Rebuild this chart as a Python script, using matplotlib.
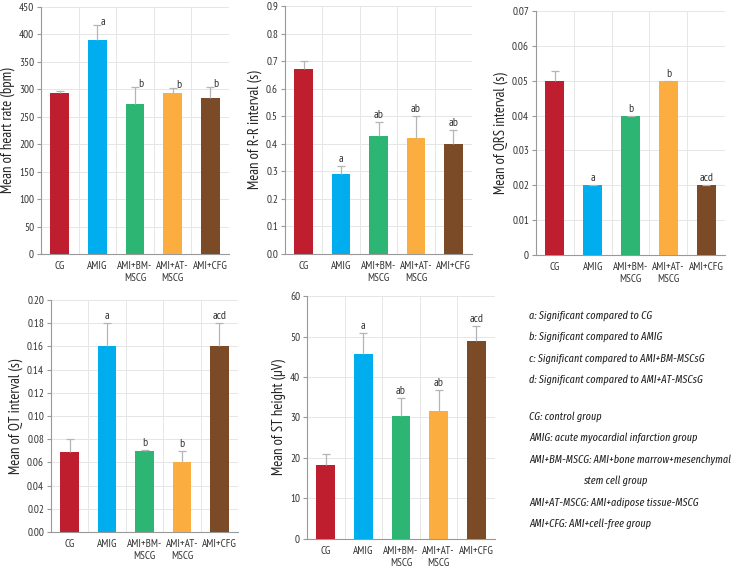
import matplotlib
matplotlib.use("Agg")
import matplotlib.pyplot as plt
import numpy as np

plt.rcParams["font.family"] = ["PT Sans Narrow", "DejaVu Sans"]
NOTE_FONT = ["Fira Sans Extra Condensed", "DejaVu Sans"]

groups = ["CG", "AMIG", "AMI+BM-\nMSCG", "AMI+AT-\nMSCG", "AMI+CFG"]
colors = ["#BE1E2D", "#00AEEF", "#2DB573", "#FBAE3F", "#7B4A26"]

heart_rate = [293, 390, 273, 293, 285]
heart_rate_err = [4, 27, 32, 9, 20]
heart_rate_sig = ["", "a", "b", "b", "b"]

rr_interval = [0.67, 0.29, 0.43, 0.42, 0.40]
rr_interval_err = [0.03, 0.03, 0.05, 0.08, 0.05]
rr_interval_sig = ["", "a", "ab", "ab", "ab"]

qrs_interval = [0.050, 0.020, 0.040, 0.050, 0.020]
qrs_interval_err = [0.0028, 0.0, 0.0, 0.0, 0.0]
qrs_interval_sig = ["", "a", "b", "b", "acd"]

qt_interval = [0.069, 0.160, 0.070, 0.060, 0.160]
qt_interval_err = [0.011, 0.020, 0.001, 0.010, 0.020]
qt_interval_sig = ["", "a", "b", "b", "acd"]

st_height = [18.3, 45.8, 30.3, 31.6, 48.8]
st_height_err = [2.7, 5.0, 4.6, 5.3, 3.7]
st_height_sig = ["", "a", "ab", "ab", "acd"]

notes = [
    "a: Significant compared to CG",
    "b: Significant compared to AMIG",
    "c: Significant compared to AMI+BM-MSCsG",
    "d: Significant compared to AMI+AT-MSCsG",
]
abbrevs = [
    "CG: control group",
    "AMIG: acute myocardial infarction group",
    "AMI+BM-MSCG: AMI+bone marrow+mesenchymal",
    "AMI+AT-MSCG: AMI+adipose tissue-MSCG",
    "AMI+CFG: AMI+cell-free group",
]


def bar_panel(ax, values, errs, sig, ylabel, ylim, yticks, labels, side=False):
    x = np.arange(len(groups))
    ax.bar(x, values, width=0.5, color=colors, zorder=3)
    eb = ax.errorbar(x, values, yerr=[np.zeros(len(errs)), errs], fmt="none",
                     ecolor="#b5b5b5", elinewidth=0.9, capsize=3, capthick=0.9,
                     zorder=4)
    eb[1][0].set_visible(False)
    span = ylim[1] - ylim[0]
    for i, s in enumerate(sig):
        if not s:
            continue
        top = values[i] + errs[i]
        if side:
            ax.text(i + 0.09, top + span * 0.012, s, ha="left", va="center",
                    fontsize=8.5, color="#333333")
        else:
            ax.text(i, top + span * 0.008, s, ha="center", va="bottom",
                    fontsize=8.5, color="#333333")
    ax.set_xlim(-0.5, len(groups) - 0.5)
    ax.set_ylim(*ylim)
    ax.set_yticks(yticks)
    ax.set_yticklabels(labels)
    ax.set_xticks(x)
    ax.set_xticklabels(groups, linespacing=1.3)
    ax.set_xticks(np.arange(len(groups) + 1) - 0.5, minor=True)
    ax.grid(axis="x", which="minor", color="#e6e6e6", lw=0.7, zorder=0)
    ax.grid(axis="y", which="major", color="#e6e6e6", lw=0.7, zorder=0)
    ax.tick_params(axis="x", which="major", length=0, labelsize=8, pad=5,
                   colors="#333333")
    ax.tick_params(axis="x", which="minor", length=0)
    ax.tick_params(axis="y", length=3, color="#999999", labelsize=8, pad=2,
                   labelcolor="#333333")
    for s in ["top", "right"]:
        ax.spines[s].set_visible(False)
    for s in ["left", "bottom"]:
        ax.spines[s].set_color("#999999")
        ax.spines[s].set_linewidth(0.8)
    ax.set_ylabel(ylabel, fontsize=10.5, labelpad=3, color="#222222")
    ax.set_axisbelow(True)


fig = plt.figure(figsize=(7.35, 5.74), dpi=100)

t1 = np.arange(0, 451, 50)
ax1 = fig.add_axes([0.0558, 0.5575, 0.2558, 0.4303])
bar_panel(ax1, heart_rate, heart_rate_err, heart_rate_sig,
          "Mean of heart rate (bpm)", (0, 450), t1,
          ["{:.0f}".format(t) for t in t1], side=True)

t2 = np.arange(0, 0.91, 0.1)
ax2 = fig.add_axes([0.3878, 0.5575, 0.2544, 0.432])
bar_panel(ax2, rr_interval, rr_interval_err, rr_interval_sig,
          "Mean of R-R interval (s)", (0, 0.9), t2,
          ["{:.1f}".format(t) for t in t2])

t3 = np.arange(0, 0.071, 0.01)
ax3 = fig.add_axes([0.7293, 0.5557, 0.2571, 0.4251])
bar_panel(ax3, qrs_interval, qrs_interval_err, qrs_interval_sig,
          "Mean of QRS interval (s)", (0, 0.07), t3,
          ["0"] + ["{:.2f}".format(t) for t in t3[1:]])

t4 = np.arange(0, 0.201, 0.02)
ax4 = fig.add_axes([0.0694, 0.0732, 0.2544, 0.4042])
bar_panel(ax4, qt_interval, qt_interval_err, qt_interval_sig,
          "Mean of QT interval (s)", (0, 0.2), t4,
          ["{:.2f}".format(t) for t in t4])

t5 = np.arange(0, 61, 10)
ax5 = fig.add_axes([0.4177, 0.061, 0.2558, 0.4233])
bar_panel(ax5, st_height, st_height_err, st_height_sig,
          "Mean of ST height (\u03bcV)", (0, 60), t5,
          ["{:.0f}".format(t) for t in t5])

note_style = dict(ha="left", va="center", fontsize=8, style="italic",
                  family=NOTE_FONT, color="#222222")
ys = [316, 337, 359, 380]
for t, y in zip(notes, ys):
    fig.text(529 / 735, 1 - y / 574, t, **note_style)
ys2 = [417, 438, 460, 503, 524]
for t, y in zip(abbrevs, ys2):
    fig.text(529 / 735, 1 - y / 574, t, **note_style)
fig.text(583 / 735, 1 - 481 / 574, "stem cell group", **note_style)

fig.savefig("out.png", dpi=100)
